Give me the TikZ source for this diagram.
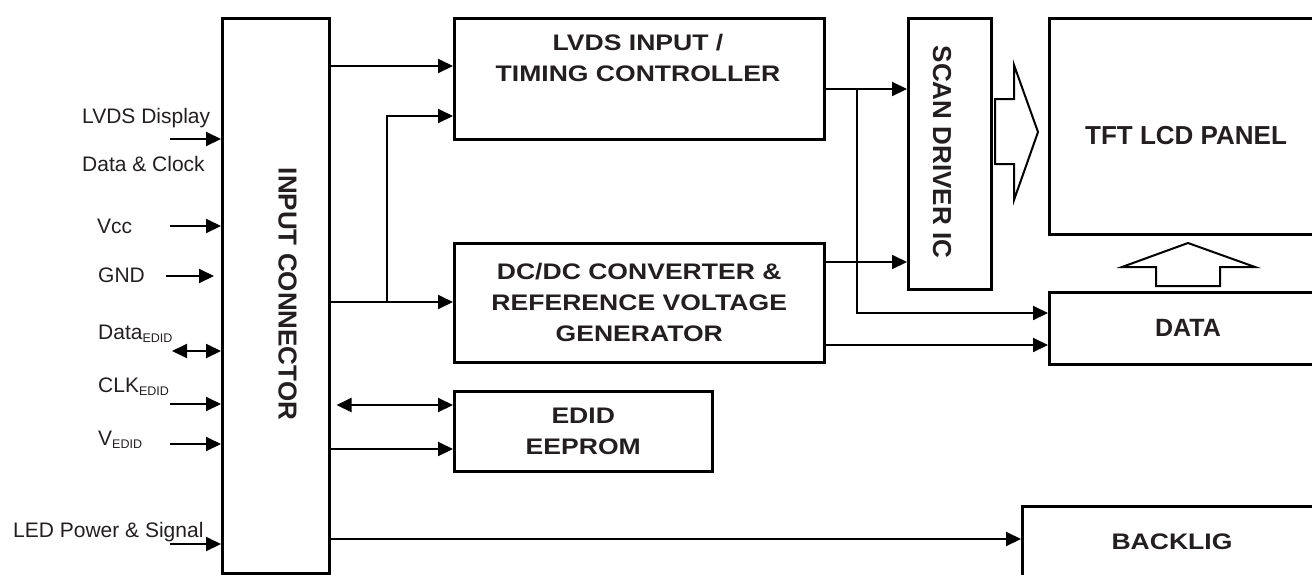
\documentclass[tikz,border=0pt]{standalone}
\usepackage{fontspec}
\setmainfont{Liberation Sans}
\newfontfamily\widefont[FakeStretch=1.18]{Liberation Sans}
\usetikzlibrary{arrows.meta}
\definecolor{txt}{RGB}{35,31,32}
\newcommand\subtxt[1]{\raisebox{-3pt}{\fontsize{12.5}{12.5}\selectfont #1}}
\begin{document}
\begin{tikzpicture}[x=1pt,y=-1pt,
  blk/.style={draw=black, line width=2.5pt, inner sep=0pt, anchor=north west, text=txt},
  wtext/.style={font=\widefont\bfseries\fontsize{22.5}{31}\selectfont, align=center, text=txt, inner sep=0pt},
  btext/.style={font=\bfseries\fontsize{26}{30}\selectfont, text=txt, inner sep=0pt},
  rtext/.style={btext, rotate=-90},
  ltext/.style={font=\fontsize{21}{24}\selectfont, text=txt, inner sep=0pt, anchor=base west},
  arr/.style={line width=2pt, -{Triangle[length=15pt,width=14pt]}},
  darr/.style={line width=2pt, {Triangle[length=15pt,width=14pt]}-{Triangle[length=15pt,width=14pt]}},
  hollow/.style={draw=black, line width=2pt, fill=white, line join=miter}]
\useasboundingbox (0,0) rectangle (1312,574);

% blocks
\node[blk, minimum width=107pt, minimum height=555pt] (conn) at (221,17) {};
\node[rtext] (connT) at (287.5,294) {INPUT CONNECTOR};
\node[blk, minimum width=370pt, minimum height=121pt] (lvds) at (453,17) {};
\node[wtext] (lvdsT) at (638,58) {LVDS INPUT /\\TIMING CONTROLLER};
\node[blk, wtext, minimum width=370pt, minimum height=119pt] (dcdc) at (453,242) {DC/DC CONVERTER \&\\REFERENCE VOLTAGE\\GENERATOR};
\node[blk, wtext, minimum width=258pt, minimum height=80pt] (edid) at (453,390) {EDID\\EEPROM};
\node[blk, minimum width=83pt, minimum height=271pt] (scan) at (907,17) {};
\node[rtext] (scanT) at (942,152) {SCAN DRIVER IC};
\node[blk, minimum width=272pt, minimum height=216pt] (tft) at (1048,17) {};
\node[btext] (tftT) at (1186,136) {TFT LCD PANEL};
\node[blk, minimum width=272pt, minimum height=72pt] (data) at (1048,291) {};
\node[btext, font=\bfseries\fontsize{25}{30}\selectfont] (dataT) at (1188,328) {DATA};
\node[blk, minimum width=300pt, minimum height=90pt] (back) at (1021,505) {};
\node[wtext] (backT) at (1172,541.5) {BACKLIG};

% level coordinates
\coordinate (yA) at (0,66);
\coordinate (yB) at (0,116);
\coordinate (jA) at (387,302);
\coordinate (jB) at (857,89);
\coordinate (yC) at (0,313);
\coordinate (yD) at (0,262);
\coordinate (yE) at (0,345);
\coordinate (yF) at (0,405);
\coordinate (yG) at (0,449);
\coordinate (yH) at (0,539);

% internal connectors
\draw[arr] (conn.east |- yA) -- (lvds.west |- yA);
\draw[arr] (conn.east |- jA) -- (dcdc.west |- jA);
\draw[arr] (jA) |- (lvds.west |- yB);
\draw[arr] (lvds.east |- jB) -- (scan.west |- jB);
\draw[arr] (jB) |- (data.west |- yC);
\draw[arr] (dcdc.east |- yD) -- (scan.west |- yD);
\draw[arr] (dcdc.east |- yE) -- (data.west |- yE);
\draw[darr, shorten <=6pt] (conn.east |- yF) -- (edid.west |- yF);
\draw[arr] (conn.east |- yG) -- (edid.west |- yG);
\draw[arr] (conn.east |- yH) -- (back.west |- yH);

% hollow arrows
\draw[hollow] (995,99) -- (1014,99) -- (1014,65) -- (1038,132) -- (1014,200) -- (1014,164) -- (995,164) -- cycle;
\draw[hollow] (1156,286) -- (1156,267) -- (1122,267) -- (1188,243) -- (1255,267) -- (1220,267) -- (1220,286) -- cycle;

% input signals
\coordinate (inA) at (170,139);
\coordinate (inB) at (170,226);
\coordinate (inC) at (166,276);
\coordinate (inD) at (172,351);
\coordinate (inE) at (170,404);
\coordinate (inF) at (170,444);
\coordinate (inG) at (170,544);
\draw[arr] (inA) -- (inA -| conn.west);
\draw[arr] (inB) -- (inB -| conn.west);
\draw[arr, shorten >=7pt] (inC) -- (inC -| conn.west);
\draw[darr] (inD) -- (inD -| conn.west);
\draw[arr] (inE) -- (inE -| conn.west);
\draw[arr] (inF) -- (inF -| conn.west);
\draw[arr] (inG) -- (inG -| conn.west);

\node[ltext] (tA1) at (82,123) {LVDS Display};
\node[ltext] (tA2) at (82,171) {Data \& Clock};
\node[ltext] (tB) at (97,233) {Vcc};
\node[ltext] (tC) at (98,282) {GND};
\node[ltext] (tD) at (98,339) {Data\subtxt{EDID}};
\node[ltext] (tE) at (98,392) {CLK\subtxt{EDID}};
\node[ltext] (tF) at (98,445) {V\subtxt{EDID}};
\node[ltext] (tG) at (13,537) {LED Power \& Signal};
\end{tikzpicture}
\end{document}
